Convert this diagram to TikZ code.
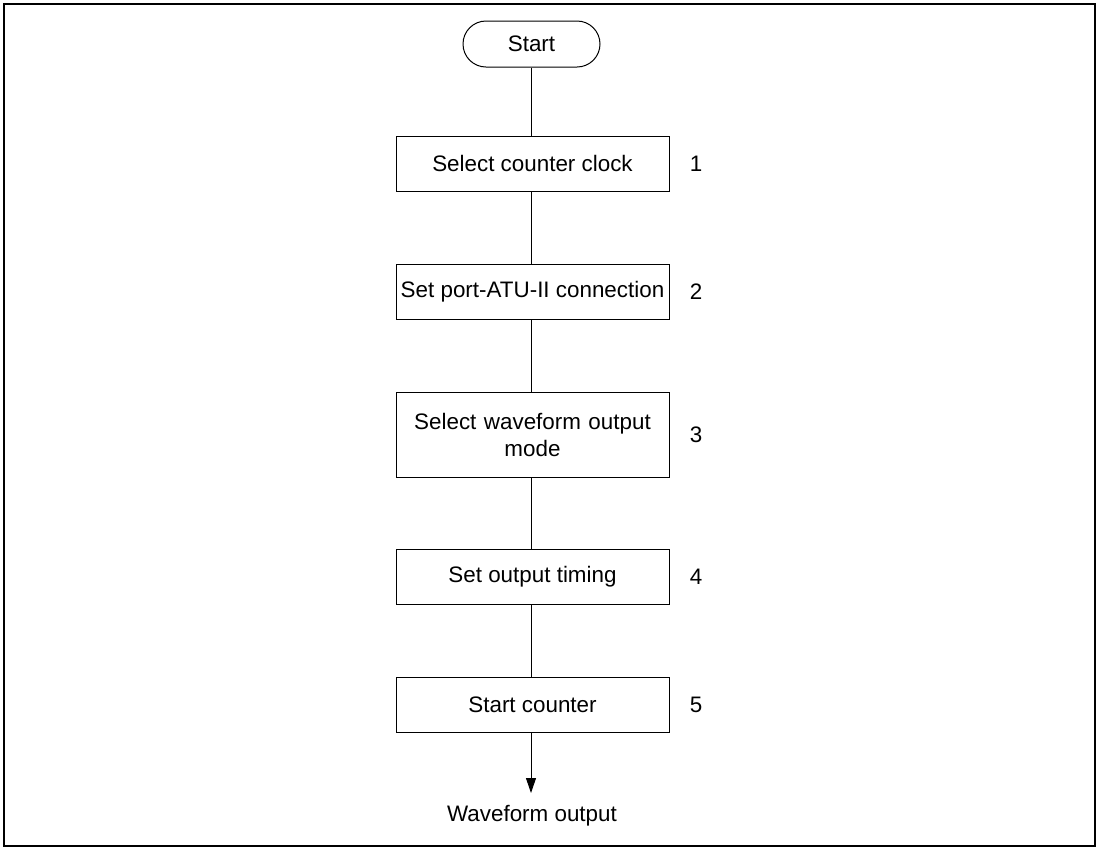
\documentclass[tikz,border=0pt]{standalone}
\usepackage{fontspec}
\setmainfont{Liberation Sans}
\usetikzlibrary{shapes.misc,arrows.meta}
\begin{document}
\begin{tikzpicture}[x=0.5pt,y=-0.5pt,
  every node/.style={font=\fontsize{11.2}{13.5}\selectfont},
  stepbox/.style={draw,line width=0.5pt,minimum width=136.5pt,minimum height=27.5pt,inner sep=0pt,align=center},
  term/.style={draw,line width=0.5pt,rounded rectangle,minimum width=68.5pt,minimum height=23pt,inner sep=0pt},
  conn/.style={line width=0.5pt},
  numlabel/.style={inner sep=0pt}]
\useasboundingbox (0,0) rectangle (1099,848);
\draw[line width=1pt] (4,4) rectangle (1095,846);
\node[term] (start) at (531.5,44) {Start};
\node[stepbox] (s1) at (532.5,163.5) {Select counter clock};
\node[stepbox] (s2) at (532.5,291.5) {Set port-ATU-II connection};
\node[stepbox,minimum height=42.5pt,text width=130pt] (s3) at (532.5,434.5) {Select waveform output\\mode};
\node[stepbox] (s4) at (532.5,576.5) {Set output timing};
\node[stepbox] (s5) at (532.5,704.5) {Start counter};
\node[numlabel] (n1) at (696,163.5) {1};
\node[numlabel] (n2) at (696,291.5) {2};
\node[numlabel] (n3) at (696,434.5) {3};
\node[numlabel] (n4) at (696,576.5) {4};
\node[numlabel] (n5) at (696,704.5) {5};
\node[inner sep=0pt] (out) at (532,816) {Waveform output};
\coordinate (tip) at (531,793);
\draw[conn] (start.south -| 531,0) -- (s1.north -| 531,0);
\draw[conn] (s1.south -| 531,0) -- (s2.north -| 531,0);
\draw[conn] (s2.south -| 531,0) -- (s3.north -| 531,0);
\draw[conn] (s3.south -| 531,0) -- (s4.north -| 531,0);
\draw[conn] (s4.south -| 531,0) -- (s5.north -| 531,0);
\draw[conn,-{Triangle[length=7.5pt,width=5pt]}] (s5.south -| 531,0) -- (tip);
\end{tikzpicture}
\end{document}
